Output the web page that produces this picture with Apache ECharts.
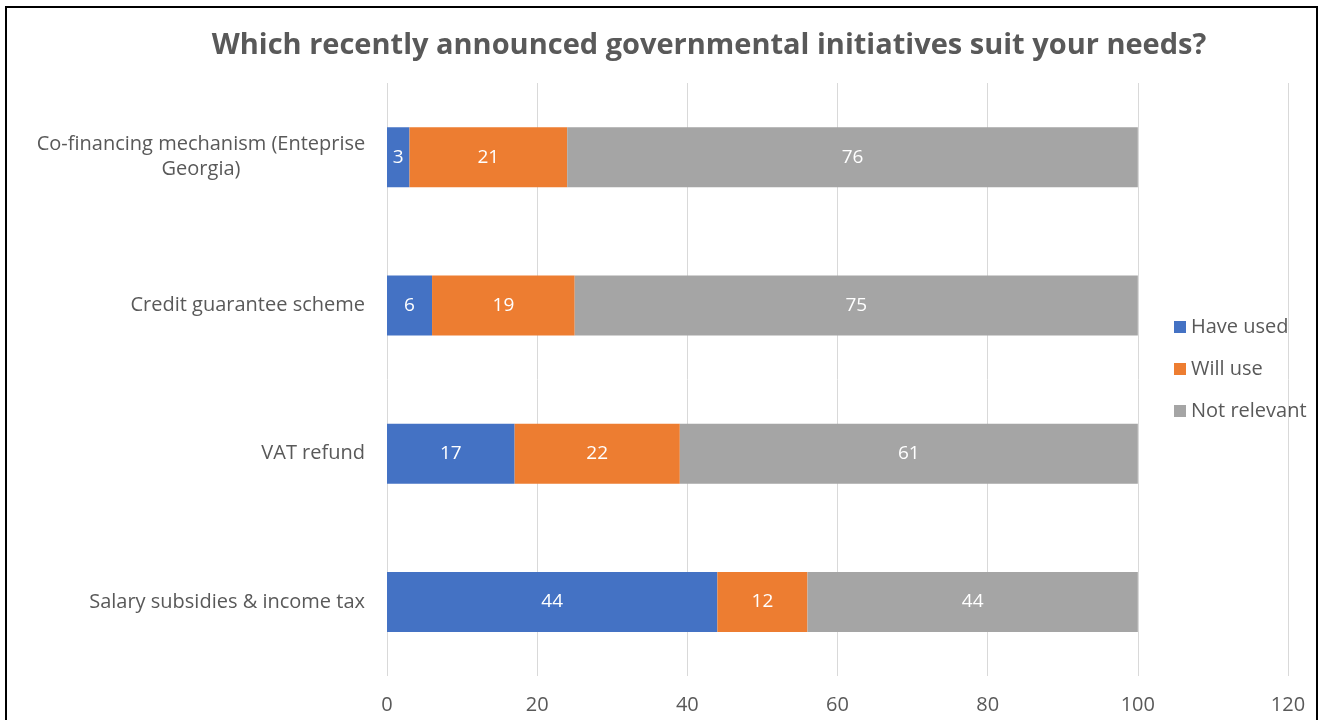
<!DOCTYPE html>
<html>
<head>
<meta charset="utf-8">
<script src="https://cdn.jsdelivr.net/npm/echarts@6/dist/echarts.min.js"></script>
<style>
  html, body { margin: 0; padding: 0; background: #fff; }
  #chart { position: absolute; left: 0; top: 0; width: 1323px; height: 720px; }
  #frame { position: absolute; left: 5px; top: 6px; width: 1309px; height: 800px;
           border: 2px solid #000; pointer-events: none; }
</style>
</head>
<body>
<div id="chart"></div>
<div id="frame"></div>
<script>
// Survey answers per initiative (percent of respondents), listed top to bottom
const categories = [
  'Co-financing mechanism (Enteprise Georgia)',
  'Credit guarantee scheme',
  'VAT refund',
  'Salary subsidies & income tax'
];
const haveUsed    = [3, 6, 17, 44];
const willUse     = [21, 19, 22, 12];
const notRelevant = [76, 75, 61, 44];
const seriesNames = ['Have used', 'Will use', 'Not relevant'];
const xTicks = [0, 20, 40, 60, 80, 100, 120];

const FONT = 'Open Sans';
const TXT = '#595959';

const chart = echarts.init(document.getElementById('chart'));

// The long first category wraps onto two centred lines
function labelFormatter(v) {
  if (v === categories[0]) {
    return '{c|Co-financing mechanism (Enteprise}\n{c|Georgia)}';
  }
  return '{r|' + v + '}';
}

function barSeries(name, data, color) {
  return {
    name: name,
    type: 'bar',
    stack: 'total',
    data: data,
    barWidth: 60,
    itemStyle: { color: color },
    label: {
      show: true,
      position: 'inside',
      color: '#fff',
      fontFamily: FONT,
      fontSize: 19
    }
  };
}

chart.setOption({
  animation: false,
  title: {
    text: 'Which recently announced governmental initiatives suit your needs?',
    left: 704,
    textAlign: 'center',
    top: 26,
    textStyle: { color: TXT, fontFamily: FONT, fontWeight: 'bold', fontSize: 29 }
  },
  legend: {
    orient: 'vertical',
    left: 1169,
    top: 312,
    itemWidth: 12,
    itemHeight: 12,
    itemGap: 22,
    icon: 'rect',
    data: seriesNames,
    textStyle: { color: TXT, fontFamily: FONT, fontSize: 20 }
  },
  grid: { left: 387, right: 35, top: 83, bottom: 44 },
  xAxis: {
    type: 'value',
    min: xTicks[0],
    max: xTicks[xTicks.length - 1],
    interval: 20,
    axisLine: { show: false },
    axisTick: { show: false },
    splitLine: { show: true, lineStyle: { color: '#d9d9d9', width: 1 } },
    axisLabel: { color: TXT, fontFamily: FONT, fontSize: 20, margin: 19 }
  },
  yAxis: {
    type: 'category',
    data: categories,
    inverse: true,
    axisLine: { show: false },
    axisTick: { show: false },
    axisLabel: {
      margin: 22,
      color: TXT,
      fontFamily: FONT,
      fontSize: 20,
      formatter: labelFormatter,
      rich: {
        c: { width: 328, align: 'center', color: TXT, fontFamily: FONT, fontSize: 20, lineHeight: 25 },
        r: { color: TXT, fontFamily: FONT, fontSize: 20 }
      }
    }
  },
  series: [
    barSeries(seriesNames[0], haveUsed, '#4472c4'),
    barSeries(seriesNames[1], willUse, '#ed7d31'),
    barSeries(seriesNames[2], notRelevant, '#a5a5a5')
  ]
});
</script>
</body>
</html>
